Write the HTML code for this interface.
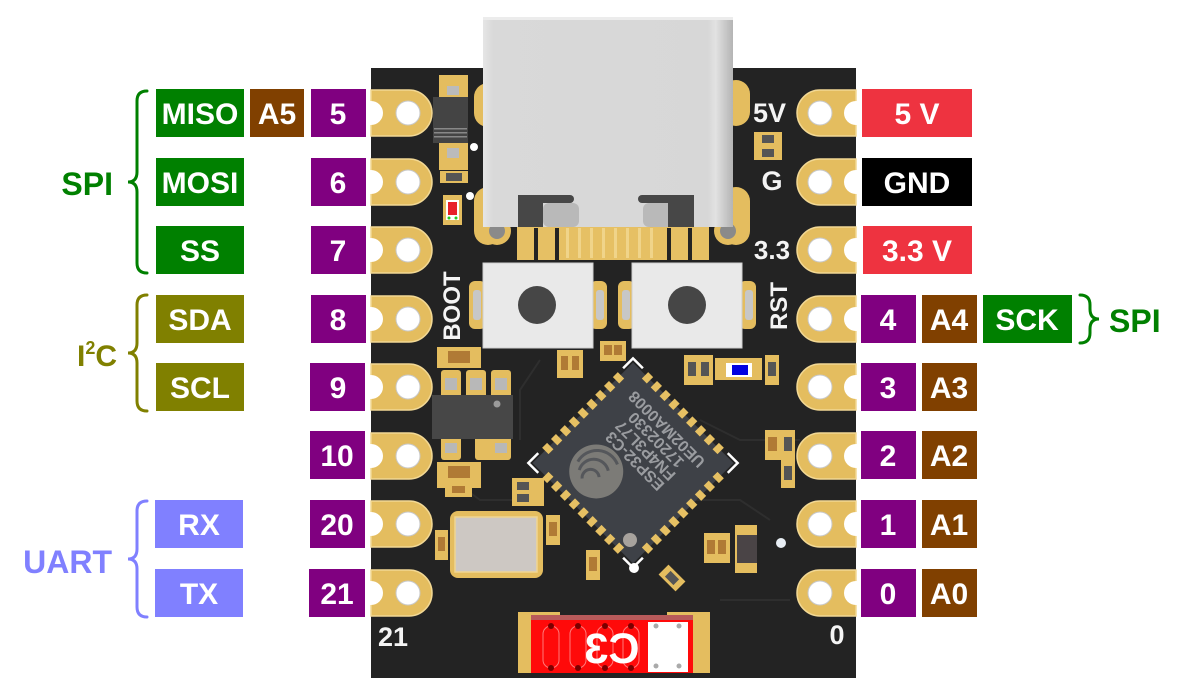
<!DOCTYPE html>
<html><head><meta charset="utf-8">
<style>
html,body{margin:0;padding:0;background:#fff;}
svg{display:block;}
text{font-family:"Liberation Sans",Arial,sans-serif;font-weight:bold;}
</style></head><body>
<svg width="1183" height="682" viewBox="0 0 1183 682" xmlns="http://www.w3.org/2000/svg">
<defs>
<linearGradient id="usb" x1="0" y1="0" x2="1" y2="0">
<stop offset="0" stop-color="#e6e6e6"/><stop offset="0.04" stop-color="#d9d9d9"/>
<stop offset="0.9" stop-color="#d7d7d7"/><stop offset="0.93" stop-color="#e2e2e2"/>
<stop offset="0.97" stop-color="#c8c8c8"/><stop offset="1" stop-color="#b4b4b4"/>
</linearGradient>
</defs>
<rect width="1183" height="682" fill="#fff"/>

<!-- board -->
<rect x="371" y="68" width="485" height="610" fill="#232323"/>
<g stroke="#2e2e2e" stroke-width="2" fill="none">
<path d="M440 470 L480 500 L520 500"/><path d="M700 420 L740 440 L800 440"/><path d="M690 500 L740 500 L770 520"/>
<path d="M540 360 L520 390 L520 440"/><path d="M720 600 L790 600"/>
</g>

<!-- left pads -->
<g fill="#e4bd5f" stroke="#f2d894" stroke-width="1.5">
<path d="M371 90 H409 A23 23 0 0 1 409 136 H371 Z"/>
<path d="M371 159 H409 A23 23 0 0 1 409 205 H371 Z"/>
<path d="M371 227 H409 A23 23 0 0 1 409 273 H371 Z"/>
<path d="M371 296 H409 A23 23 0 0 1 409 342 H371 Z"/>
<path d="M371 364 H409 A23 23 0 0 1 409 410 H371 Z"/>
<path d="M371 433 H409 A23 23 0 0 1 409 479 H371 Z"/>
<path d="M371 501 H409 A23 23 0 0 1 409 547 H371 Z"/>
<path d="M371 570 H409 A23 23 0 0 1 409 616 H371 Z"/>
</g>
<g fill="#fff" stroke="#c8c8c8" stroke-width="1">
<circle cx="408" cy="113" r="12"/><circle cx="408" cy="182" r="12"/><circle cx="408" cy="250" r="12"/><circle cx="408" cy="319" r="12"/>
<circle cx="408" cy="387" r="12"/><circle cx="408" cy="456" r="12"/><circle cx="408" cy="524" r="12"/><circle cx="408" cy="593" r="12"/>
</g>
<g fill="#fff">
<circle cx="371" cy="113" r="12"/><circle cx="371" cy="182" r="12"/><circle cx="371" cy="250" r="12"/><circle cx="371" cy="319" r="12"/>
<circle cx="371" cy="387" r="12"/><circle cx="371" cy="456" r="12"/><circle cx="371" cy="524" r="12"/><circle cx="371" cy="593" r="12"/>
</g>

<!-- right pads -->
<g fill="#e4bd5f" stroke="#f2d894" stroke-width="1.5">
<path d="M856 90 H820 A23 23 0 0 0 820 136 H856 Z"/>
<path d="M856 159 H820 A23 23 0 0 0 820 205 H856 Z"/>
<path d="M856 227 H820 A23 23 0 0 0 820 273 H856 Z"/>
<path d="M856 296 H820 A23 23 0 0 0 820 342 H856 Z"/>
<path d="M856 364 H820 A23 23 0 0 0 820 410 H856 Z"/>
<path d="M856 433 H820 A23 23 0 0 0 820 479 H856 Z"/>
<path d="M856 501 H820 A23 23 0 0 0 820 547 H856 Z"/>
<path d="M856 570 H820 A23 23 0 0 0 820 616 H856 Z"/>
</g>
<g fill="#fff" stroke="#c8c8c8" stroke-width="1">
<circle cx="820" cy="113" r="12"/><circle cx="820" cy="182" r="12"/><circle cx="820" cy="250" r="12"/><circle cx="820" cy="319" r="12"/>
<circle cx="820" cy="387" r="12"/><circle cx="820" cy="456" r="12"/><circle cx="820" cy="524" r="12"/><circle cx="820" cy="593" r="12"/>
</g>
<g fill="#fff">
<circle cx="856" cy="113" r="12"/><circle cx="856" cy="182" r="12"/><circle cx="856" cy="250" r="12"/><circle cx="856" cy="319" r="12"/>
<circle cx="856" cy="387" r="12"/><circle cx="856" cy="456" r="12"/><circle cx="856" cy="524" r="12"/><circle cx="856" cy="593" r="12"/>
</g>

<!-- USB shell slots -->
<g fill="#e4bd5f">
<rect x="474" y="83" width="28" height="44" rx="14"/><rect x="474" y="187" width="28" height="58" rx="14"/>
<rect x="722" y="80" width="28" height="46" rx="14"/><rect x="722" y="187" width="28" height="58" rx="14"/>
</g>
<circle cx="497" cy="231" r="14" fill="#e4bd5f"/><circle cx="497" cy="231" r="8" fill="#8a8a8a"/>
<circle cx="728" cy="231" r="14" fill="#e4bd5f"/><circle cx="728" cy="231" r="8" fill="#8a8a8a"/>

<!-- USB pins -->
<rect x="517" y="226" width="192" height="34" fill="#e6c064"/>
<g fill="#232323">
<rect x="534" y="228" width="4" height="32"/><rect x="555" y="228" width="4" height="32"/>
<rect x="667" y="228" width="4" height="32"/><rect x="688" y="228" width="4" height="32"/>
</g>
<g fill="#f0d48a">
<rect x="566" y="228" width="3" height="30"/><rect x="578" y="228" width="3" height="30"/><rect x="590" y="228" width="3" height="30"/>
<rect x="602" y="228" width="3" height="30"/><rect x="614" y="228" width="3" height="30"/><rect x="626" y="228" width="3" height="30"/>
<rect x="638" y="228" width="3" height="30"/><rect x="650" y="228" width="3" height="30"/>
</g>

<!-- USB body -->
<rect x="483" y="17" width="250" height="210" fill="url(#usb)"/>
<rect x="483" y="17" width="250" height="3" fill="#ececec"/>
<rect x="543" y="203" width="36" height="24" rx="6" fill="#b9b9b9"/>
<rect x="643" y="203" width="30" height="24" rx="6" fill="#b9b9b9"/>
<g fill="#474747">
<rect x="518" y="195" width="56" height="8" rx="4"/><rect x="518" y="195" width="25" height="32"/>
<rect x="638" y="195" width="56" height="8" rx="4"/><rect x="668" y="195" width="26" height="32"/>
</g>

<!-- buttons -->
<g fill="#e4bd5f">
<rect x="469" y="281" width="17" height="48" rx="6"/><rect x="590" y="281" width="17" height="48" rx="6"/>
<rect x="618" y="281" width="17" height="48" rx="6"/><rect x="739" y="281" width="17" height="48" rx="6"/>
</g>
<g fill="#c7c7c7">
<rect x="473" y="290" width="8" height="30" rx="3"/><rect x="596" y="290" width="8" height="30" rx="3"/>
<rect x="622" y="290" width="8" height="30" rx="3"/><rect x="745" y="290" width="8" height="30" rx="3"/>
</g>
<rect x="483" y="263" width="110" height="85" fill="#e9e9e9" stroke="#cfcfcf"/>
<rect x="632" y="263" width="110" height="85" fill="#e9e9e9" stroke="#cfcfcf"/>
<circle cx="537" cy="305" r="19" fill="#464646"/>
<circle cx="687" cy="305" r="19" fill="#464646"/>

<!-- upper-left components -->
<rect x="439" y="75" width="29" height="24" fill="#e4bd5f"/>
<rect x="439" y="142" width="29" height="28" fill="#e4bd5f"/>
<rect x="447" y="86" width="12" height="9" fill="#bbb"/><rect x="447" y="148" width="12" height="10" fill="#bbb"/>
<rect x="433" y="97" width="35" height="46" fill="#444"/>
<g fill="#888"><rect x="434" y="128" width="33" height="1.5"/><rect x="434" y="132" width="33" height="1.5"/><rect x="434" y="136" width="33" height="1.5"/></g>
<rect x="440" y="171" width="28" height="12" fill="#e4bd5f"/><rect x="446" y="173" width="16" height="8" fill="#555"/>
<rect x="443" y="195" width="19" height="30" fill="#e4bd5f"/><rect x="446" y="200" width="13" height="20" fill="#fff"/>
<rect x="448" y="202" width="9" height="13" fill="#e8202a"/>
<circle cx="449" cy="218" r="1.5" fill="#2c2"/><circle cx="456" cy="218" r="1.5" fill="#2c2"/>
<circle cx="474" cy="147" r="4" fill="#fff"/><circle cx="470" cy="196" r="4" fill="#fff"/>

<!-- right top components -->
<rect x="754" y="132" width="28" height="28" fill="#e4bd5f"/>
<rect x="762" y="135" width="12" height="8" fill="#555"/><rect x="762" y="149" width="12" height="8" fill="#555"/>

<!-- small comps near buttons -->
<g fill="#e4bd5f">
<rect x="600" y="341" width="26" height="20"/><rect x="557" y="350" width="26" height="28"/>
<rect x="684" y="355" width="29" height="30"/><rect x="715" y="358" width="47" height="22"/><rect x="765" y="355" width="14" height="30"/>
<rect x="765" y="430" width="16" height="30"/><rect x="781" y="430" width="14" height="30"/><rect x="781" y="460" width="14" height="28"/>
<rect x="704" y="533" width="26" height="30"/><rect x="735" y="525" width="22" height="48"/>
<rect x="586" y="550" width="14" height="30"/><rect x="512" y="478" width="32" height="28"/><rect x="546" y="515" width="14" height="30"/>
<rect x="435" y="530" width="13" height="30"/>
</g>
<g fill="#b07a35">
<rect x="604" y="345" width="8" height="10"/><rect x="614" y="345" width="8" height="10"/>
<rect x="561" y="356" width="7" height="14"/><rect x="572" y="356" width="7" height="14"/>
<rect x="768" y="437" width="9" height="14"/><rect x="707" y="540" width="8" height="14"/><rect x="718" y="540" width="8" height="14"/>
<rect x="589" y="557" width="8" height="14"/><rect x="549" y="522" width="8" height="14"/><rect x="438" y="537" width="7" height="14"/>
</g>
<g fill="#555">
<rect x="688" y="362" width="8" height="14"/><rect x="701" y="362" width="8" height="14"/><rect x="768" y="362" width="8" height="14"/>
<rect x="784" y="437" width="8" height="14"/><rect x="784" y="466" width="8" height="14"/>
<rect x="517" y="482" width="12" height="8"/><rect x="517" y="494" width="12" height="8"/>
<rect x="737" y="535" width="20" height="28" fill="#4a4446"/>
</g>
<rect x="726" y="363" width="26" height="14" fill="#fff"/><rect x="732" y="365" width="16" height="10" fill="#0000e0"/>
<circle cx="781" cy="543" r="5" fill="#e8eef4"/>
<g transform="translate(672,578) rotate(45)"><rect x="-12" y="-7" width="24" height="14" fill="#e4bd5f"/><rect x="-6" y="-4" width="12" height="8" fill="#555"/></g>

<!-- left SOT regulator -->
<rect x="437" y="347" width="44" height="21" fill="#e4bd5f"/><rect x="448" y="351" width="22" height="12" fill="#b07a35"/>
<g fill="#e4bd5f">
<rect x="441" y="370" width="20" height="28" rx="3"/><rect x="466" y="370" width="20" height="28" rx="3"/><rect x="491" y="370" width="20" height="28" rx="3"/>
<rect x="441" y="436" width="20" height="24" rx="3"/><rect x="475" y="436" width="36" height="24" rx="3"/>
</g>
<g fill="#b8b8b8"><rect x="445" y="378" width="12" height="12"/><rect x="470" y="378" width="12" height="12"/><rect x="495" y="378" width="12" height="12"/>
<rect x="445" y="443" width="12" height="10"/><rect x="495" y="443" width="12" height="10"/></g>
<rect x="432" y="395" width="81" height="44" fill="#474747"/>
<circle cx="497" cy="404" r="3.5" fill="#9a9a9a"/>
<rect x="437" y="462" width="44" height="26" fill="#e4bd5f"/><rect x="448" y="466" width="22" height="12" fill="#b07a35"/>
<rect x="445" y="482" width="27" height="15" fill="#e4bd5f"/><rect x="452" y="486" width="13" height="7" fill="#b07a35"/>

<!-- crystal -->
<rect x="450" y="511" width="93" height="67" rx="8" fill="#e4bd5f"/>
<rect x="455" y="517" width="82" height="55" fill="#cdc8c3" stroke="#f0d590" stroke-width="1.5"/>

<!-- chip -->
<g transform="translate(633,463) rotate(45)">
<rect x="-71" y="-71" width="142" height="142" fill="#3e4147"/>
<g fill="#e6c063">
<rect x="-53.5" y="-75" width="7" height="9"/><rect x="-41" y="-75" width="7" height="9"/><rect x="-28.5" y="-75" width="7" height="9"/><rect x="-16" y="-75" width="7" height="9"/><rect x="-3.5" y="-75" width="7" height="9"/><rect x="9" y="-75" width="7" height="9"/><rect x="21.5" y="-75" width="7" height="9"/><rect x="34" y="-75" width="7" height="9"/><rect x="46.5" y="-75" width="7" height="9"/>
<rect x="-53.5" y="66" width="7" height="9"/><rect x="-41" y="66" width="7" height="9"/><rect x="-28.5" y="66" width="7" height="9"/><rect x="-16" y="66" width="7" height="9"/><rect x="-3.5" y="66" width="7" height="9"/><rect x="9" y="66" width="7" height="9"/><rect x="21.5" y="66" width="7" height="9"/><rect x="34" y="66" width="7" height="9"/><rect x="46.5" y="66" width="7" height="9"/>
<rect y="-53.5" x="-75" height="7" width="9"/><rect y="-41" x="-75" height="7" width="9"/><rect y="-28.5" x="-75" height="7" width="9"/><rect y="-16" x="-75" height="7" width="9"/><rect y="-3.5" x="-75" height="7" width="9"/><rect y="9" x="-75" height="7" width="9"/><rect y="21.5" x="-75" height="7" width="9"/><rect y="34" x="-75" height="7" width="9"/><rect y="46.5" x="-75" height="7" width="9"/>
<rect y="-53.5" x="66" height="7" width="9"/><rect y="-41" x="66" height="7" width="9"/><rect y="-28.5" x="66" height="7" width="9"/><rect y="-16" x="66" height="7" width="9"/><rect y="-3.5" x="66" height="7" width="9"/><rect y="9" x="66" height="7" width="9"/><rect y="21.5" x="66" height="7" width="9"/><rect y="34" x="66" height="7" width="9"/><rect y="46.5" x="66" height="7" width="9"/>
</g>
<g stroke="#fff" stroke-width="2.5" fill="none">
<path d="M-74 -60 V-74 H-60"/><path d="M60 -74 H74 V-60"/><path d="M74 60 V74 H60"/><path d="M-60 74 H-74 V60"/>
</g>
<circle cx="-20" cy="32" r="27" fill="#7c7b77"/>
<g stroke="#55575b" stroke-width="3" fill="none">
<path d="M-40 38 A22 22 0 0 1 -10 12"/><path d="M-33 43 A15 15 0 0 1 -12 23"/><path d="M-25 47 A8 8 0 0 1 -14 34"/>
</g>
<g transform="rotate(180)" fill="#9a9ca0" font-size="16" text-anchor="middle">
<text x="0" y="8" font-weight="normal">ESP32-C3</text>
<text x="0" y="23" font-weight="normal">FN4P3L77</text>
<text x="0" y="38" font-weight="normal">17202330</text>
<text x="0" y="53" font-weight="normal">UE02MA0008</text>
</g>
</g>
<circle cx="630" cy="540" r="7" fill="#a7a29d"/>
<circle cx="634" cy="568" r="5" fill="#fff"/>

<!-- bottom red label -->
<rect x="518" y="612" width="42" height="61" fill="#e4bd5f"/>
<rect x="667" y="612" width="43" height="61" fill="#e4bd5f"/>
<rect x="531" y="615" width="162" height="58" fill="#ff0a0a"/>
<rect x="531" y="615" width="162" height="5" fill="#b85a5a"/>
<g fill="none" stroke="#ff7a7a" stroke-width="1">
<rect x="543" y="626" width="16" height="42" rx="8"/><rect x="570" y="626" width="16" height="42" rx="8"/>
<rect x="597" y="626" width="16" height="42" rx="8"/><rect x="623" y="626" width="16" height="42" rx="8"/>
</g>
<g fill="#7a0000">
<circle cx="551" cy="626" r="3"/><circle cx="578" cy="626" r="3"/><circle cx="605" cy="626" r="3"/><circle cx="631" cy="626" r="3"/>
<circle cx="551" cy="668" r="3"/><circle cx="578" cy="668" r="3"/><circle cx="605" cy="668" r="3"/><circle cx="631" cy="668" r="3"/>
</g>
<rect x="648" y="622" width="40" height="50" fill="#fff"/>
<g fill="#aaa"><circle cx="656" cy="626" r="2.5"/><circle cx="679" cy="626" r="2.5"/><circle cx="656" cy="666" r="2.5"/><circle cx="679" cy="666" r="2.5"/></g>
<text transform="translate(612,663) scale(-1,1)" text-anchor="middle" font-size="43" fill="#fff">C3</text>

<!-- silkscreen -->
<g fill="#f4f4f4">
<text x="753" y="122" font-size="27">5V</text>
<text x="772" y="190" font-size="27" text-anchor="middle">G</text>
<text x="772" y="259" font-size="26" text-anchor="middle">3.3</text>
<text x="378" y="646" font-size="27">21</text>
<text x="837" y="644" font-size="27" text-anchor="middle">0</text>
<text transform="translate(460,306) rotate(-90)" font-size="24" text-anchor="middle">BOOT</text>
<text transform="translate(787,306) rotate(-90)" font-size="24" text-anchor="middle">RST</text>
</g>

<!-- left label boxes -->
<g>
<rect x="156" y="89" width="88" height="48" fill="#008000"/>
<rect x="250" y="89" width="54" height="48" fill="#804000"/>
<rect x="311" y="89" width="55" height="48" fill="#800080"/>
<rect x="156" y="158" width="88" height="48" fill="#008000"/>
<rect x="311" y="158" width="55" height="48" fill="#800080"/>
<rect x="156" y="226" width="88" height="48" fill="#008000"/>
<rect x="311" y="226" width="55" height="48" fill="#800080"/>
<rect x="156" y="295" width="88" height="48" fill="#808000"/>
<rect x="311" y="295" width="55" height="48" fill="#800080"/>
<rect x="156" y="363" width="88" height="48" fill="#808000"/>
<rect x="310" y="363" width="55" height="48" fill="#800080"/>
<rect x="310" y="431" width="55" height="48" fill="#800080"/>
<rect x="155" y="500" width="88" height="48" fill="#8080ff"/>
<rect x="310" y="500" width="55" height="48" fill="#800080"/>
<rect x="155" y="569" width="88" height="48" fill="#8080ff"/>
<rect x="309" y="569" width="56" height="48" fill="#800080"/>
</g>
<g fill="#fff" font-size="30" text-anchor="middle">
<text x="200" y="124">MISO</text><text x="277" y="124">A5</text><text x="338" y="124">5</text>
<text x="200" y="193">MOSI</text><text x="338" y="193">6</text>
<text x="200" y="261">SS</text><text x="338" y="261">7</text>
<text x="200" y="330">SDA</text><text x="338" y="330">8</text>
<text x="200" y="398">SCL</text><text x="338" y="398">9</text>
<text x="337" y="466">10</text>
<text x="199" y="535">RX</text><text x="337" y="535">20</text>
<text x="199" y="604">TX</text><text x="337" y="604">21</text>
</g>

<!-- right label boxes -->
<g>
<rect x="862" y="89" width="110" height="48" fill="#ee3340"/>
<rect x="862" y="158" width="110" height="48" fill="#000"/>
<rect x="863" y="226" width="109" height="48" fill="#ee3340"/>
<rect x="861" y="295" width="55" height="48" fill="#800080"/>
<rect x="922" y="295" width="55" height="48" fill="#804000"/>
<rect x="983" y="295" width="89" height="48" fill="#008000"/>
<rect x="861" y="363" width="55" height="48" fill="#800080"/><rect x="922" y="363" width="55" height="48" fill="#804000"/>
<rect x="861" y="431" width="55" height="48" fill="#800080"/><rect x="922" y="431" width="55" height="48" fill="#804000"/>
<rect x="861" y="500" width="55" height="48" fill="#800080"/><rect x="922" y="500" width="55" height="48" fill="#804000"/>
<rect x="861" y="569" width="55" height="48" fill="#800080"/><rect x="922" y="569" width="55" height="48" fill="#804000"/>
</g>
<g fill="#fff" font-size="30" text-anchor="middle">
<text x="917" y="124">5 V</text>
<text x="917" y="193">GND</text>
<text x="917" y="261">3.3 V</text>
<text x="888" y="330">4</text><text x="949" y="330">A4</text><text x="1027" y="330">SCK</text>
<text x="888" y="398">3</text><text x="949" y="398">A3</text>
<text x="888" y="466">2</text><text x="949" y="466">A2</text>
<text x="888" y="535">1</text><text x="949" y="535">A1</text>
<text x="888" y="604">0</text><text x="949" y="604">A0</text>
</g>

<!-- braces -->
<g fill="none" stroke-width="3" stroke-linecap="round">
<path stroke="#008000" d="M147 91 Q137 91 137 101 V172 Q137 182 128 182 Q137 182 137 192 V263 Q137 273 147 273"/>
<path stroke="#808000" d="M147 295 Q137 295 137 305 V343 Q137 353 128 353 Q137 353 137 363 V401 Q137 411 147 411"/>
<path stroke="#8080ff" d="M147 501 Q137 501 137 511 V549 Q137 559 128 559 Q137 559 137 569 V607 Q137 617 147 617"/>
<path stroke="#008000" d="M1080 295 Q1090 295 1090 305 V309 Q1090 319 1099 319 Q1090 319 1090 329 V333 Q1090 343 1080 343"/>
</g>

<!-- group labels -->
<text x="113" y="195" font-size="32" text-anchor="end" fill="#008000">SPI</text>
<text x="77" y="366" font-size="30" fill="#808000">I<tspan dy="-12" font-size="18">2</tspan><tspan dy="12">C</tspan></text>
<text x="112" y="573" font-size="32" text-anchor="end" fill="#8080ff">UART</text>
<text x="1109" y="332" font-size="32" fill="#008000">SPI</text>
</svg>
</body></html>
